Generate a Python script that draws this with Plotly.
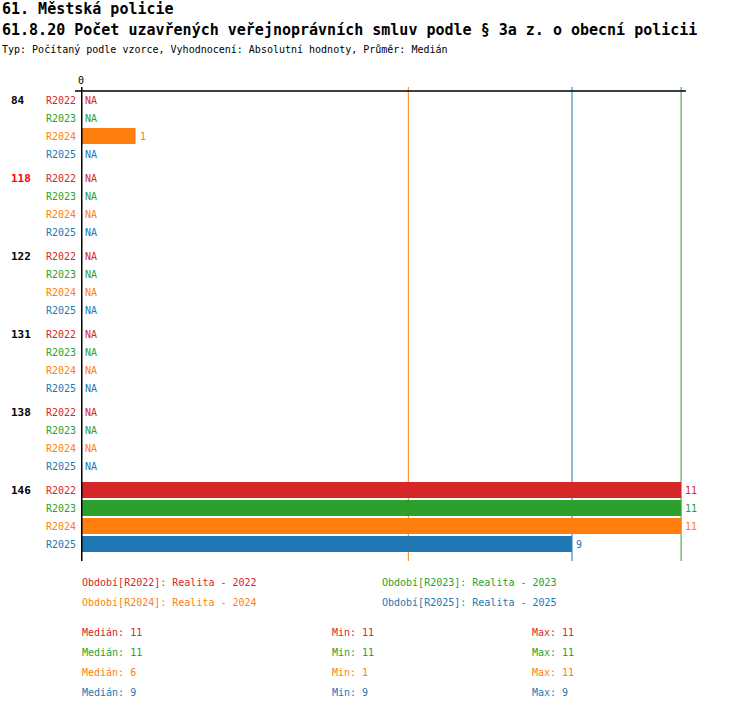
import plotly.graph_objects as go
import statistics

# ---- data ----
groups = ["84", "118", "122", "131", "138", "146"]
highlighted_group = "118"
series = ["R2022", "R2023", "R2024", "R2025"]
series_names = ["Realita - 2022", "Realita - 2023", "Realita - 2024", "Realita - 2025"]
r2022 = [None, None, None, None, None, 11]
r2023 = [None, None, None, None, None, 11]
r2024 = [1, None, None, None, None, 11]
r2025 = [None, None, None, None, None, 9]
values = [r2022, r2023, r2024, r2025]

title1 = "61. Městská policie"
title2 = "61.8.20 Počet uzavřených veřejnoprávních smluv podle § 3a z. o obecní policii"
subtitle = "Typ: Počítaný podle vzorce, Vyhodnocení: Absolutní hodnoty, Průměr: Medián"

# ---- styles ----
colors = ["#d62728", "#2ca02c", "#ff7f0e", "#1f77b4"]
FONT = "DejaVu Sans Mono"
W, H = 750, 710
L, R, T, B = 81, 686, 87, 561
XMAX = 11.09
nser = len(series)
gap = 1 / 3.0


def ypos(g, s):
    return g * (nser + gap) + s


def px(xp):
    return (xp - L) / (R - L)


def py(yp):
    return 1 - (yp - T) / (B - T)


fig = go.Figure()
ann = []

for s in range(nser):
    ys = [ypos(g, s) for g in range(len(groups))]
    fig.add_trace(go.Bar(
        x=values[s], y=ys, orientation="h", width=16 / 18,
        marker=dict(color=colors[s], line=dict(width=0)),
        showlegend=False, hoverinfo="skip",
    ))
    for g in range(len(groups)):
        v = values[s][g]
        ann.append(dict(
            x=0 if v is None else v, y=ys[g], xref="x", yref="y",
            text="NA" if v is None else str(v), showarrow=False,
            xanchor="left", yanchor="middle", xshift=2,
            font=dict(family=FONT, size=10, color=colors[s]),
        ))
        ann.append(dict(
            x=px(78), y=ys[g], xref="paper", yref="y", text=series[s],
            showarrow=False, xanchor="right", yanchor="middle",
            font=dict(family=FONT, size=10, color=colors[s]),
        ))

for g, name in enumerate(groups):
    ann.append(dict(
        x=px(9), y=ypos(g, 0), xref="paper", yref="y", text="<b>%s</b>" % name,
        showarrow=False, xanchor="left", yanchor="middle",
        font=dict(family=FONT, size=11, color="#ff0000" if name == highlighted_group else "#000000"),
    ))

# titles
ann.append(dict(x=px(0), y=py(9), xref="paper", yref="paper", text="<b>%s</b>" % title1,
                showarrow=False, xanchor="left", yanchor="middle",
                font=dict(family=FONT, size=15, color="#000")))
ann.append(dict(x=px(0), y=py(30), xref="paper", yref="paper", text="<b>%s</b>" % title2,
                showarrow=False, xanchor="left", yanchor="middle",
                font=dict(family=FONT, size=15, color="#000")))
ann.append(dict(x=px(0), y=py(50), xref="paper", yref="paper", text=subtitle,
                showarrow=False, xanchor="left", yanchor="middle",
                font=dict(family=FONT, size=10, color="#000")))

# legend rows
leg_pos = [(80, 582), (380, 582), (80, 602), (380, 602)]
for s in range(nser):
    x0, y0 = leg_pos[s]
    ann.append(dict(x=px(x0), y=py(y0), xref="paper", yref="paper",
                    text="Období[%s]: %s" % (series[s], series_names[s]),
                    showarrow=False, xanchor="left", yanchor="middle",
                    font=dict(family=FONT, size=10, color=colors[s])))

# stats
medians = {}
for s in range(nser):
    vals = [v for v in values[s] if v is not None]
    med = statistics.median(vals)
    mn, mx = min(vals), max(vals)
    fmt = lambda v: str(int(v)) if float(v).is_integer() else str(v)
    yy = 632 + 20 * s
    for xx, lab, v in [(80, "Medián", med), (330, "Min", mn), (530, "Max", mx)]:
        ann.append(dict(x=px(xx), y=py(yy), xref="paper", yref="paper",
                        text="%s: %s" % (lab, fmt(v)), showarrow=False,
                        xanchor="left", yanchor="middle",
                        font=dict(family=FONT, size=10, color=colors[s])))
    medians[med] = colors[s]  # later series drawn on top wins

shapes = []
for med, col in medians.items():
    shapes.append(dict(type="line", xref="x", yref="paper", x0=med, x1=med, y0=0, y1=1,
                       line=dict(color=col, width=1), layer="below"))

# top axis line and left axis line
shapes.append(dict(type="line", xref="paper", yref="y", x0=px(75), x1=1,
                   y0=-0.5, y1=-0.5, line=dict(color="#000", width=1.5)))
shapes.append(dict(type="line", xref="x", yref="paper", x0=0, x1=0, y0=0, y1=1,
                   line=dict(color="#000", width=3)))

fig.update_layout(
    width=W, height=H, autosize=False,
    margin=dict(l=L, r=W - R, t=T, b=H - B, pad=0),
    paper_bgcolor="white", plot_bgcolor="white",
    barmode="overlay",
    xaxis=dict(range=[0, XMAX], side="top", tickvals=[0], ticktext=["0"],
               showgrid=False, zeroline=False, showline=False, ticks="",
               tickfont=dict(family=FONT, size=10, color="#000"), fixedrange=True),
    yaxis=dict(range=[(561 - 100) / 18.0, (87 - 100) / 18.0], showticklabels=False,
               showgrid=False, zeroline=False, showline=False, ticks="", fixedrange=True),
    annotations=ann, shapes=shapes,
)

fig.write_html(
    "out.html",
    config={"displayModeBar": False, "staticPlot": True},
    post_script="document.body.style.margin='0';document.body.style.overflow='hidden';",
)
